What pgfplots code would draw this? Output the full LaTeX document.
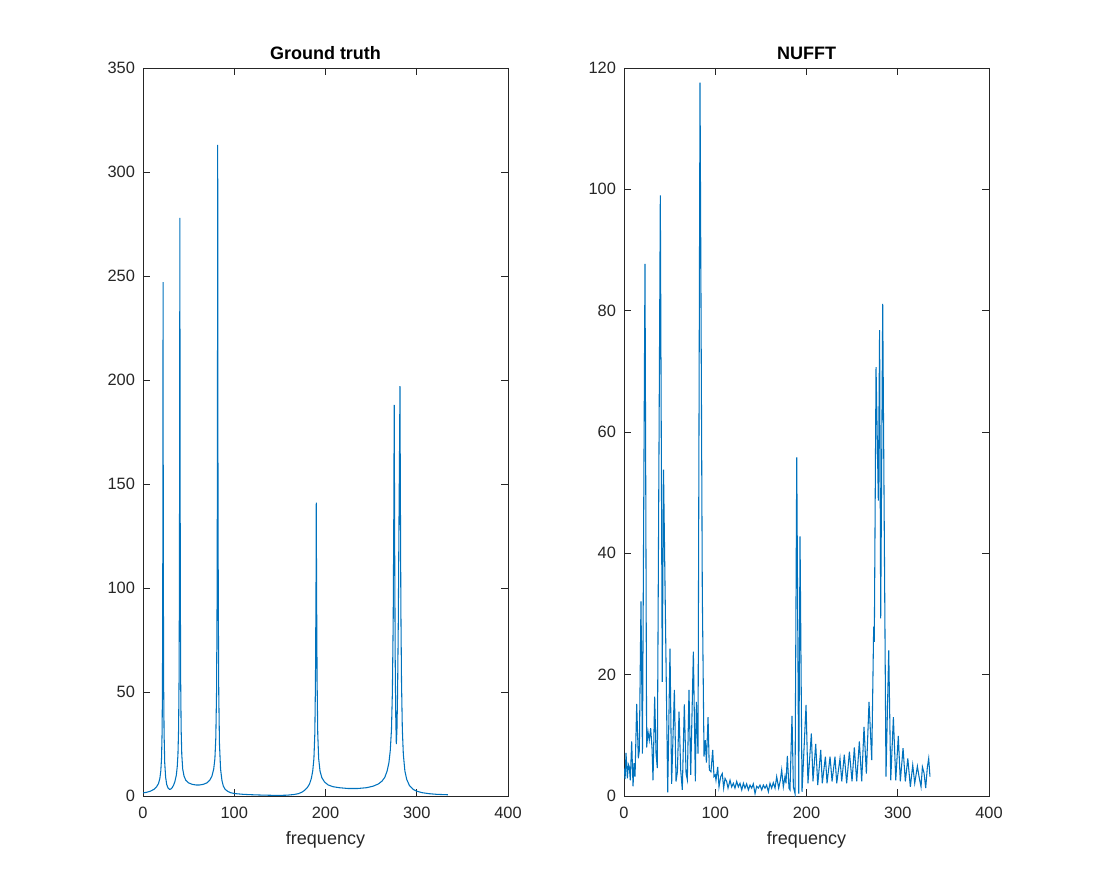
\documentclass[border=0pt]{standalone}
\usepackage{pgfplots}
\pgfplotsset{compat=1.18}
\usepackage{fontspec}
\setmainfont{Liberation Sans}
\definecolor{mblue}{rgb}{0,0.447,0.741}
\definecolor{axgray}{rgb}{0.15,0.15,0.15}
\pgfplotsset{mystyle/.style={
  scale only axis, width=273.75pt, height=546pt,
  anchor=south west,
  xmin=0, xmax=400, xtick={0,100,200,300,400},
  tick align=inside, xtick pos=both, ytick pos=both,
  major tick length=5.4pt,
  axis line style={axgray, line width=0.5pt},
  every tick/.style={axgray, line width=0.5pt},
  tick label style={font=\fontsize{12.3}{14}\selectfont, text=axgray},
  xticklabel style={yshift=-5pt},
  yticklabel style={xshift=-2.5pt},
  /pgf/number format/assume math mode=true,
  xlabel={frequency},
  xlabel style={font=\fontsize{13.5}{15}\selectfont, text=axgray, yshift=-2.5pt},
  title style={font=\bfseries\fontsize{13.5}{15}\selectfont, text=black, yshift=-3pt},
  scaled ticks=false,
}}
\begin{document}
\begin{tikzpicture}
\path[use as bounding box] (0,0) rectangle (820.5pt,670.5pt);
\begin{axis}[mystyle, at={(107.25pt,73.5pt)}, ymin=0, ymax=350,
  ytick={0,50,100,150,200,250,300,350}, title={Ground truth}]
\addplot[mblue, line width=0.8pt] coordinates {
(0,1.5) (4,1.8) (8,2.3) (12,3.2) (15,4.5) (17,6) (18.5,8.5) (19.5,12) (20.3,18) (20.9,30) (21.3,50) (21.6,90) (21.85,160) (22,247) (22.15,160) (22.4,90) (22.7,50) (23.1,30) (23.8,16) (24.8,9) (26,5.5) (27.5,3.8) (29,3.2) (30.5,3.3) (32,4) (33.5,5.2) (35,7) (36.5,10) (37.5,14) (38.3,20) (39,32) (39.5,55) (39.9,100) (40.2,180) (40.4,278) (40.6,180) (40.9,100) (41.3,55) (41.8,32) (42.5,20) (43.5,13) (45,9.5) (47,7.5) (50,6.3) (54,5.6) (58,5.3) (62,5.3) (66,5.6) (70,6.3) (73,7.5) (75.5,9.5) (77.5,13) (78.8,18) (79.8,28) (80.6,50) (81.2,95) (81.6,170) (81.85,313) (82.1,170) (82.5,95) (83,50) (83.8,25) (85,13) (86.5,7.5) (88,4.8) (90,3.2) (93,2.2) (96,1.6) (100,1.2) (110,0.8) (120,0.6) (130,0.45) (140,0.35) (150,0.3) (158,0.4) (165,0.7) (170,1.1) (174,1.8) (177,2.7) (180,4) (182.5,5.8) (184.5,8.5) (186,12) (187.3,18) (188.3,30) (189,55) (189.6,100) (189.9,141) (190.2,100) (190.8,55) (191.5,30) (192.5,18) (194,12) (196,8.8) (199,6.7) (203,5.3) (208,4.5) (215,4) (225,3.6) (235,3.6) (245,4) (252,4.7) (258,5.8) (262,7.2) (265,9) (267.5,12) (269.5,16) (271,22) (272.3,32) (273.3,50) (274.2,85) (274.8,130) (275.3,188) (275.8,120) (276.4,65) (277,38) (277.6,25) (278.3,32) (279,50) (279.8,85) (280.5,130) (281.2,170) (281.6,197) (282,150) (282.6,90) (283.3,55) (284.2,32) (285.3,20) (287,12) (289,8) (292,5) (296,3.2) (300,2.3) (306,1.6) (314,1.1) (322,0.8) (334,0.6)
};
\end{axis}
\begin{axis}[mystyle, at={(468pt,73.5pt)}, ymin=0, ymax=120,
  ytick={0,20,40,60,80,100,120}, title={NUFFT}]
\addplot[mblue, line width=0.8pt] coordinates {
(0.4,4.5) (1.2,2.8) (2.2,7.1) (3.7,2.9) (4.8,5.2) (5.8,4.8) (6.9,2.6) (8.4,9) (9.9,1.6) (11,5.4) (12.1,3.2) (13.9,15.2) (15.7,6.2) (16.8,7.5) (18.6,32.1) (20.2,7) (23,87.7) (24.8,8) (26.3,10.6) (27.7,9.2) (29.2,11.2) (30.7,7.9) (31.8,2.6) (33.6,16.4) (35.1,7) (36.5,4.6) (39.8,99) (41.9,18.8) (43.3,53.8) (47.9,0.6) (50.4,24.3) (52.2,2) (55.2,17.5) (57,2.4) (58.5,4) (60.3,13.9) (62.1,4.3) (63.9,1) (66.1,15.1) (68,3.7) (69.4,2.7) (71.2,17.5) (73.1,3.5) (76,23.8) (78.2,2.4) (79.3,15.5) (81.1,7) (83.3,117.6) (85.8,33.7) (87.7,6.5) (89.1,9.2) (90.3,5.5) (92.1,13) (93.5,4.3) (95.3,4) (97.2,7.6) (98.6,3.2) (100,3.5) (100.8,2.6) (102.7,4.8) (104.1,1.5) (106,3.2) (107.7,3.7) (109.2,1.3) (110.7,2.9) (112.5,2.4) (114,1.3) (116.2,2.6) (118,1.5) (119.8,2.1) (121.6,1.3) (123.5,2.4) (125.3,1.5) (127.1,2.1) (129,1) (130.8,2.1) (132.6,1.3) (134.4,2) (136.3,1) (138.1,1.8) (139.9,1.3) (141.7,2) (143.6,0.4) (145.4,1.6) (147.2,1.3) (149,1.8) (150.9,1) (152.7,1.8) (154.5,1.3) (156.3,1.8) (158.2,0.7) (160,2.1) (161.8,1.3) (163.6,2.2) (165.5,1.3) (167.3,3.2) (169.5,1.3) (171.3,2.6) (172.8,4.3) (174.6,1.5) (176.4,3.2) (177.5,2.1) (179,6.6) (180.8,1.3) (181.9,1) (184.1,13.2) (185.6,1.5) (187.4,0.4) (189.3,55.8) (191.5,0.4) (192.9,42.8) (195.1,0.7) (199.5,15) (201.6,2.1) (205.3,10.3) (207.1,2.4) (210.1,8.6) (212.3,1.8) (215.6,7.6) (217.3,2.1) (220.7,6.5) (222.5,2.1) (225.8,6.5) (228,2.4) (231.2,6.5) (233.1,2.1) (236.7,6.2) (238.6,2.4) (241.4,6.8) (244,2.1) (247,7.3) (249.9,2.4) (252.4,8) (255,2.4) (257.9,9) (260.5,2.4) (263,11.4) (265.6,3.7) (268.5,15.5) (271.5,5.9) (273.6,27.9) (274.3,25.4) (276.2,70.7) (278.7,48.7) (280.1,76.8) (281.3,29.3) (283.5,81.1) (287.1,3.2) (290.1,24) (292.3,2.6) (295.2,13) (297.8,2.6) (300.6,9.9) (302.8,2.4) (305.8,7.9) (308.3,2.4) (311,6.2) (313.8,1.5) (316.4,5.1) (318.6,2.1) (321.5,4.9) (323.3,3.2) (325.5,1.5) (327,4.8) (328.8,3.8) (330.6,1.3) (332.4,4.7) (333.9,6.2) (335.3,3.2)
};
\end{axis}
\end{tikzpicture}
\end{document}
